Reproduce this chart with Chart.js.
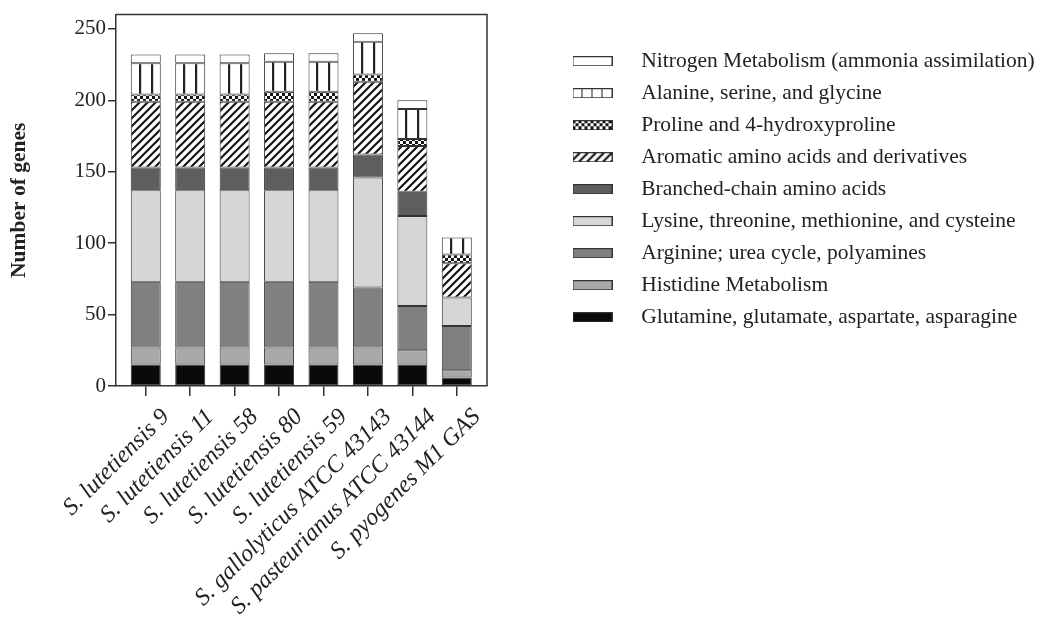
<!DOCTYPE html>
<html>
<head>
<meta charset="utf-8">
<script src="https://cdn.jsdelivr.net/npm/chart.js@4.4.1/dist/chart.umd.min.js"></script>
<style>
  html, body { margin: 0; padding: 0; background: #fff; }
  #wrap { width: 1040px; height: 623px; }
</style>
</head>
<body>
<div id="wrap"><canvas id="myChart" width="1040" height="623"></canvas></div>
<script>
// strains on the x axis
const strains = ['S. lutetiensis 9', 'S. lutetiensis 11', 'S. lutetiensis 58', 'S. lutetiensis 80',
  'S. lutetiensis 59', 'S. gallolyticus ATCC 43143', 'S. pasteurianus ATCC 43144', 'S. pyogenes M1 GAS'];

// gene counts per subsystem, bottom of the stack first
const glutamine = [15, 15, 15, 15, 15, 15, 15, 6];
const histidine = [12, 12, 12, 12, 12, 12, 10, 5];
const arginine  = [46, 46, 46, 46, 46, 42, 31, 31];
const lysine    = [64, 64, 64, 64, 64, 77, 63, 20];
const branched  = [16, 16, 16, 16, 16, 16, 17, 0];
const aromatic  = [46, 46, 46, 46, 46, 51, 32, 24];
const proline   = [5, 5, 5, 7, 7, 5, 5, 6];
const alanine   = [22, 22, 22, 21, 21, 23, 21, 12];
const nitrogen  = [6, 6, 6, 6, 6, 6, 6, 0];

const yTicks = [0, 50, 100, 150, 200, 250];

const serif = '"Liberation Serif", "Times New Roman", serif';

// small tiles for the black & white fills
function tile(w, h, paint) {
    const c = document.createElement('canvas');
    c.width = w; c.height = h;
    const g = c.getContext('2d');
    g.fillStyle = '#fff';
    g.fillRect(0, 0, w, h);
    paint(g);
    return c;
}
const hatchTile = tile(8, 8, g => {
    g.strokeStyle = '#151515';
    g.lineWidth = 2.2;
    g.beginPath();
    g.moveTo(-2, 10); g.lineTo(10, -2);
    g.moveTo(-6, 6); g.lineTo(6, -6);
    g.moveTo(2, 14); g.lineTo(14, 2);
    g.stroke();
});
const checkTile = tile(6, 6, g => {
    g.fillStyle = '#151515';
    g.fillRect(0, 0, 3, 3);
    g.fillRect(3, 3, 3, 3);
});
const vlineTile = tile(12, 4, g => {
    g.fillStyle = '#222';
    g.fillRect(0, 0, 2.2, 4);
});
const tctx = document.createElement('canvas').getContext('2d');

// pattern lined up with each bar so the stripes sit the same way in every bar
function barPattern(img, shift) {
    return (ctx) => {
        const p = tctx.createPattern(img, 'repeat');
        if (ctx.type === 'data' && ctx.chart.scales.x) {
            const cx = ctx.chart.scales.x.getPixelForValue(ctx.dataIndex);
            p.setTransform(new DOMMatrix().translate(Math.round(cx + shift), 0));
        }
        return p;
    };
}

// legend swatches (40 x 10 with a thin border)
function swatch(fill) {
    return tile(40, 10, g => {
        g.fillStyle = fill;
        g.fillRect(0, 0, 40, 10);
        g.strokeStyle = '#333';
        g.lineWidth = 1;
        g.strokeRect(0.5, 0.5, 39, 9);
    });
}

const fills = {
    glutamine: '#0a0a0a',
    histidine: '#a9a9a9',
    arginine: '#808080',
    lysine: '#d6d6d6',
    branched: '#5e5e5e',
    nitrogen: '#ffffff'
};

const common = { borderColor: '#333', borderWidth: 1, borderSkipped: false };

// put the legend where the figure has it
const legendSpot = {
    id: 'legendSpot',
    afterInit(chart) {
        const lg = chart.legend;
        const fit = lg.fit;
        lg.fit = function () {
            fit.call(this);
            this.width = chart.width - 487;
        };
    },
    afterLayout(chart) {
        chart.legend.left = 554 - 10;
        chart.legend.top = 40;
    }
};

// closed frame round the plot
const frame = {
    id: 'frame',
    afterDraw(chart) {
        const { ctx, chartArea: a } = chart;
        ctx.save();
        ctx.strokeStyle = '#333';
        ctx.lineWidth = 1.5;
        ctx.beginPath();
        ctx.moveTo(a.left, a.top);
        ctx.lineTo(a.right, a.top);
        ctx.lineTo(a.right, a.bottom);
        ctx.stroke();
        ctx.restore();
    }
};

const ctx = document.getElementById('myChart').getContext('2d');
const myChart = new Chart(ctx, {
    type: 'bar',
    data: {
        labels: strains.map((s, i) => i),
        datasets: [
            { label: 'Glutamine, glutamate, aspartate, asparagine', data: glutamine, backgroundColor: fills.glutamine, pointStyle: swatch(fills.glutamine), ...common },
            { label: 'Histidine Metabolism', data: histidine, backgroundColor: fills.histidine, pointStyle: swatch(fills.histidine), ...common },
            { label: 'Arginine; urea cycle, polyamines', data: arginine, backgroundColor: fills.arginine, pointStyle: swatch(fills.arginine), ...common },
            { label: 'Lysine, threonine, methionine, and cysteine', data: lysine, backgroundColor: fills.lysine, pointStyle: swatch(fills.lysine), ...common },
            { label: 'Branched-chain amino acids', data: branched, backgroundColor: fills.branched, pointStyle: swatch(fills.branched), ...common },
            { label: 'Aromatic amino acids and derivatives', data: aromatic, backgroundColor: barPattern(hatchTile, 0), pointStyle: swatch(tctx.createPattern(hatchTile, 'repeat')), ...common },
            { label: 'Proline and 4-hydroxyproline', data: proline, backgroundColor: barPattern(checkTile, 0), pointStyle: swatch(tctx.createPattern(checkTile, 'repeat')), ...common },
            { label: 'Alanine, serine, and glycine', data: alanine, backgroundColor: barPattern(vlineTile, -7), pointStyle: swatch(tctx.createPattern(tile(10, 4, g => { g.fillStyle = '#222'; g.fillRect(9, 0, 2, 4); }), 'repeat')), ...common },
            { label: 'Nitrogen Metabolism (ammonia assimilation)', data: nitrogen, backgroundColor: fills.nitrogen, pointStyle: swatch(fills.nitrogen), ...common }
        ]
    },
    options: {
        responsive: false,
        animation: false,
        layout: { padding: { top: 14 } },
        datasets: { bar: { barPercentage: 0.675, categoryPercentage: 1 } },
        plugins: {
            tooltip: { enabled: false },
            legend: {
                position: 'right',
                align: 'start',
                reverse: true,
                labels: {
                    usePointStyle: true,
                    pointStyleWidth: 76,
                    boxHeight: 10,
                    padding: 10.5,
                    color: '#222',
                    font: { family: serif, size: 21.5 }
                }
            }
        },
        scales: {
            x: {
                type: 'linear',
                stacked: true,
                offset: false,
                min: -0.67,
                max: 7.68,
                afterFit(s) { s.height = 623 - 386; },
                afterBuildTicks(s) { s.ticks = strains.map((name, i) => ({ value: i })); },
                grid: { offset: false, drawOnChartArea: false, drawTicks: true, tickLength: 10, color: '#333', lineWidth: 1.5 },
                border: { color: '#333', width: 1.5 },
                ticks: {
                    autoSkip: false,
                    maxRotation: 45,
                    minRotation: 45,
                    padding: 7,
                    labelOffset: 20,
                    color: '#222',
                    font: { family: serif, size: 24, style: 'italic' },
                    callback: (v) => strains[v]
                }
            },
            y: {
                stacked: true,
                min: 0,
                max: 260,
                afterFit(s) { s.width = 116; },
                afterBuildTicks(s) { s.ticks = yTicks.map(v => ({ value: v })); },
                grid: { drawOnChartArea: false, drawTicks: true, tickLength: 8, color: '#333', lineWidth: 1.5 },
                border: { color: '#333', width: 1.5 },
                ticks: {
                    padding: 2,
                    color: '#222',
                    font: { family: serif, size: 21 }
                },
                title: {
                    display: true,
                    text: 'Number of genes',
                    color: '#222',
                    padding: { top: 7, bottom: 0 },
                    font: { family: serif, size: 21.5, weight: 'bold' }
                }
            }
        }
    },
    plugins: [legendSpot, frame]
});
</script>
</body>
</html>
